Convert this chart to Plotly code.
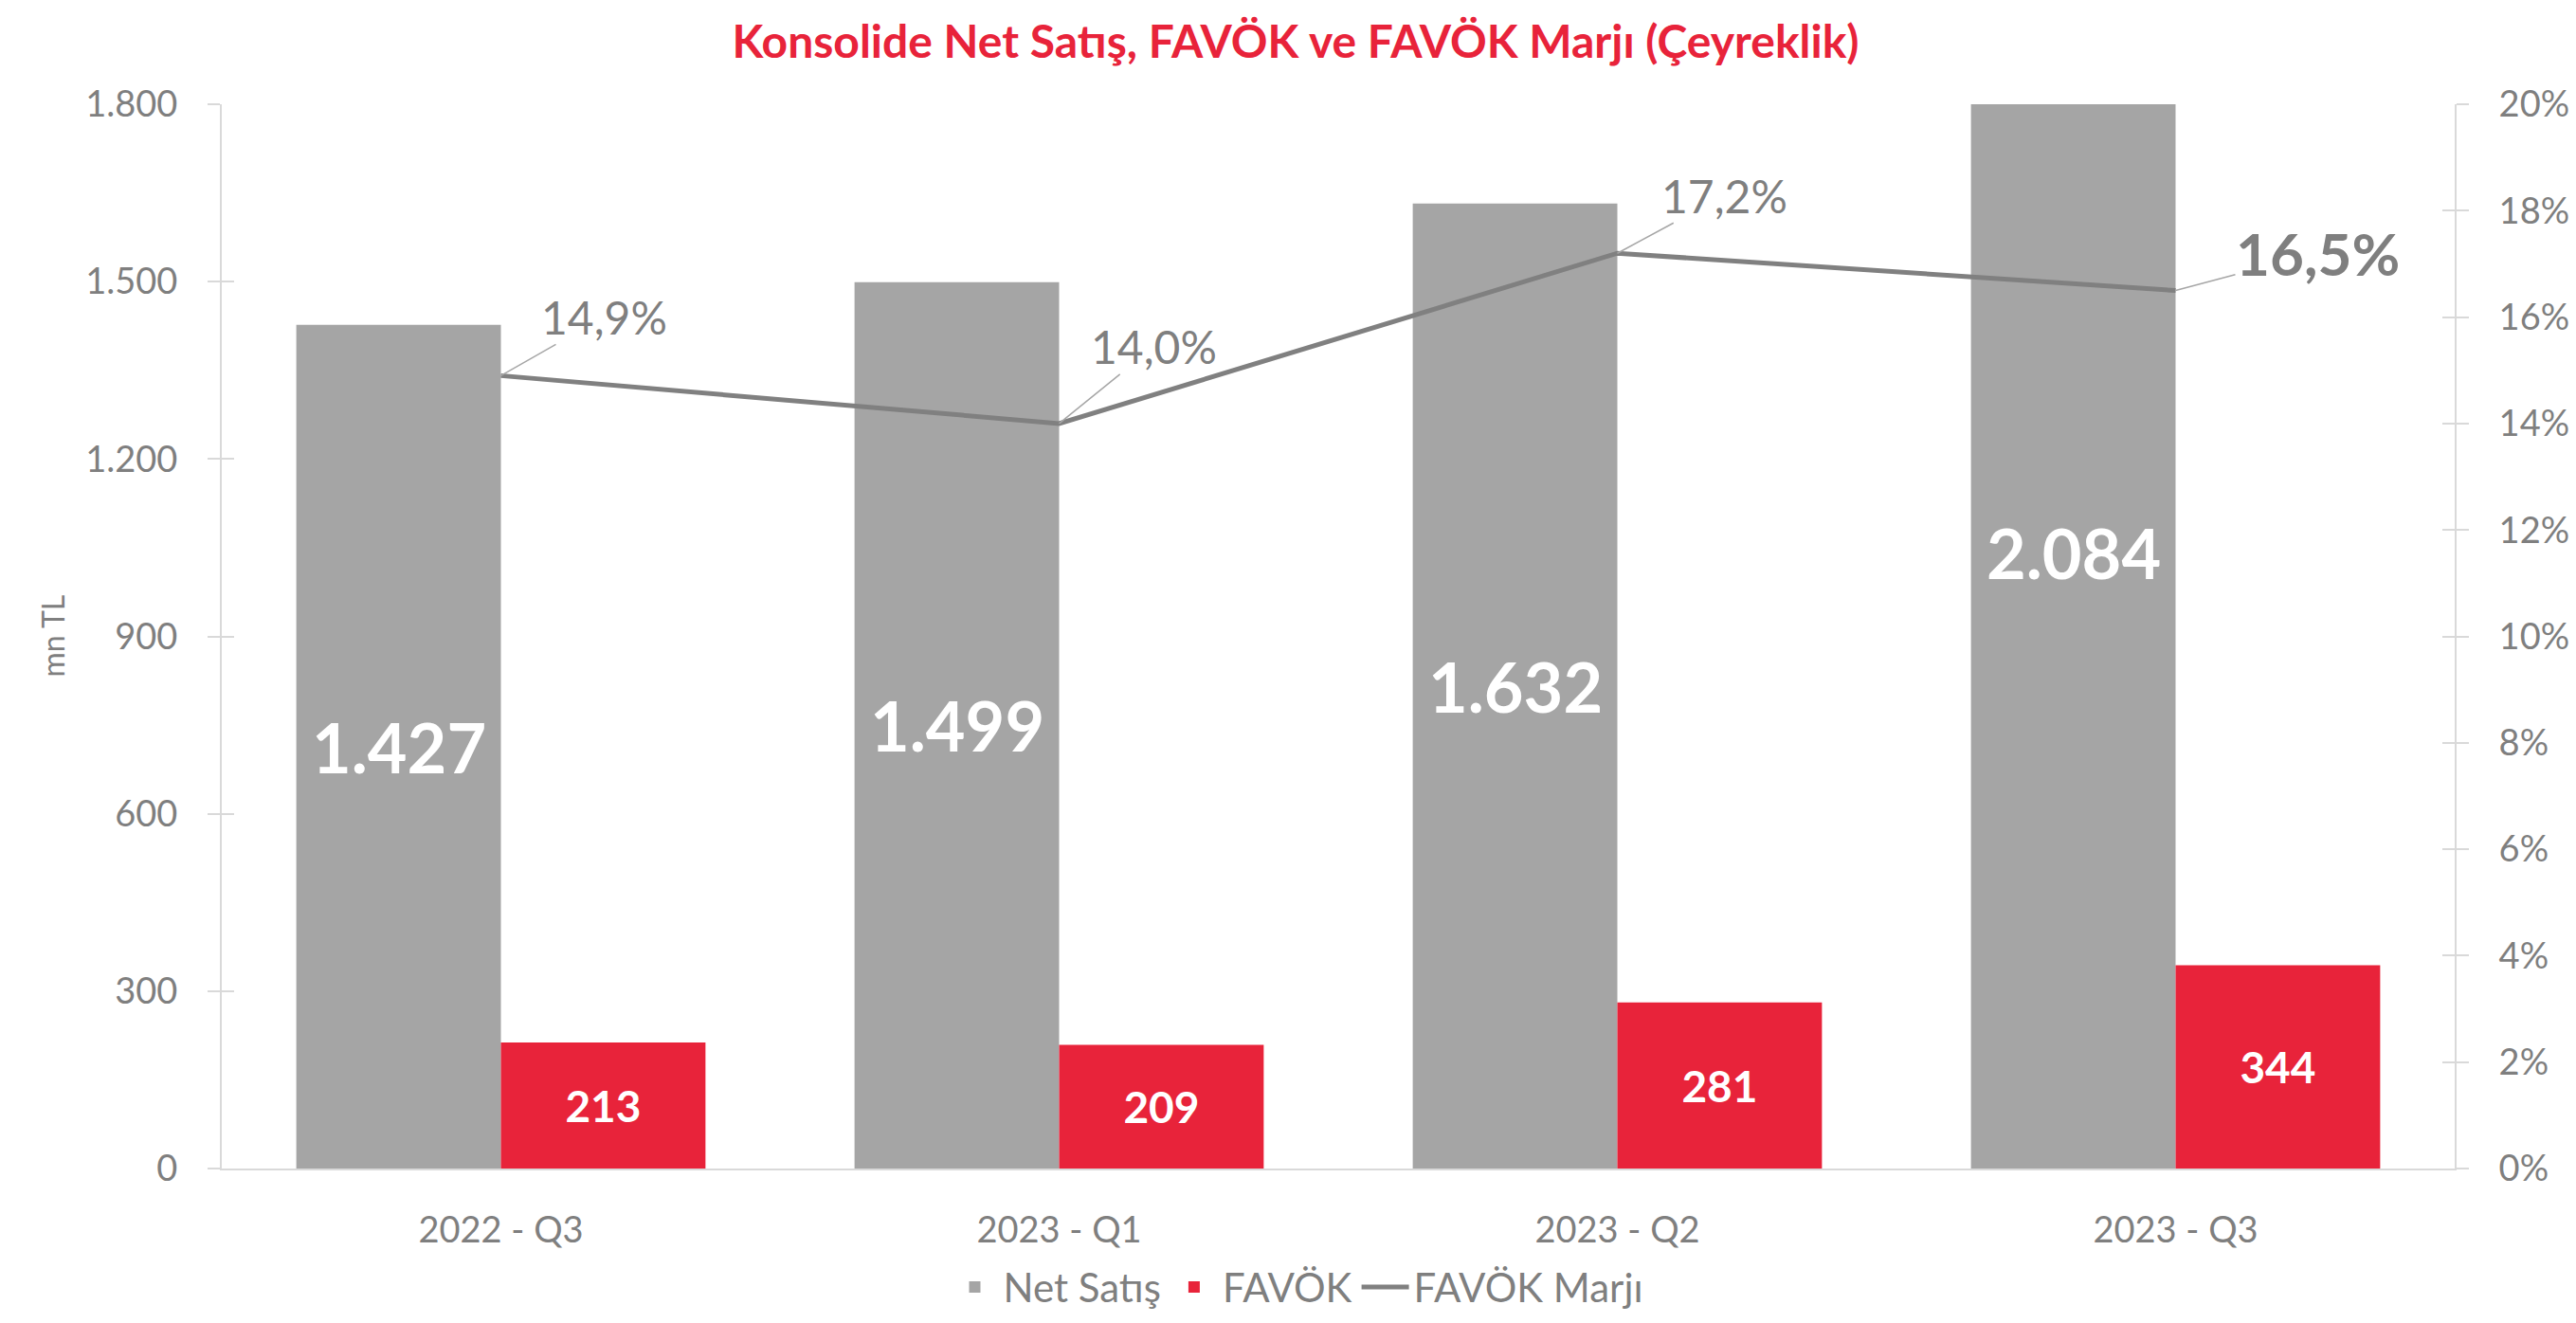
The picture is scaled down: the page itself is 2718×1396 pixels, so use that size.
import plotly.graph_objects as go

categories = ["2022 - Q3", "2023 - Q1", "2023 - Q2", "2023 - Q3"]
net_satis = [1427, 1499, 1632, 2084]
favok = [213, 209, 281, 344]
favok_marji = [14.9, 14.0, 17.2, 16.5]  # percent
left_ticks = [0, 300, 600, 900, 1200, 1500, 1800]
right_ticks = [0, 2, 4, 6, 8, 10, 12, 14, 16, 18, 20]

GRAY_BAR = "#A5A5A5"
RED = "#E8233A"
TXT = "#7F7F7F"
AXIS = "#D9D9D9"
FONT = "Lato"

W, H = 2718, 1396
ML, MR, MT, MB = 226, 136, 102, 154
BARGAP = 0.267

def tr_num(v, dec=0):
    s = f"{v:,.{dec}f}"
    return s.replace(",", "X").replace(".", ",").replace("X", ".")

fig = go.Figure()
fig.add_trace(go.Bar(
    x=categories, y=net_satis, name="Net Satış", marker_color=GRAY_BAR,
    marker_line_width=0, hoverinfo="skip"))
fig.add_trace(go.Bar(
    x=categories, y=favok, name="FAVÖK", marker_color=RED, marker_line_width=0,
    text=[tr_num(v) for v in favok], textposition="inside",
    insidetextanchor="middle", textangle=0,
    textfont=dict(family=FONT, size=46, color="white", weight="bold"),
    hoverinfo="skip"))
fig.add_trace(go.Scatter(
    x=categories, y=[v / 100 for v in favok_marji], name="FAVÖK Marjı",
    yaxis="y2", mode="lines", line=dict(color="#808080", width=5),
    hoverinfo="skip"))
# helper traces so overlay axes (for crossing tick marks) are drawn
fig.add_trace(go.Scatter(x=categories, y=[None] * len(categories), yaxis="y3",
                         showlegend=False, hoverinfo="skip"))
fig.add_trace(go.Scatter(x=categories, y=[None] * len(categories), yaxis="y4",
                         showlegend=False, hoverinfo="skip"))

annotations = []
bar_w = (1 - BARGAP) / 2
for i, v in enumerate(net_satis):
    annotations.append(dict(
        x=i - bar_w / 2, y=v / 2, xref="x", yref="y", showarrow=False,
        text=f"<b>{tr_num(v)}</b>",
        font=dict(family=FONT, size=72, color="white")))

label_offsets = [(109, -62), (100, -81), (113, -61), (150, -40)]
for i, v in enumerate(favok_marji):
    last = i == len(favok_marji) - 1
    txt = tr_num(v, 1) + "%"
    annotations.append(dict(
        x=categories[i], y=v / 100, xref="x", yref="y2",
        text=f"<b>{txt}</b>" if last else txt,
        showarrow=True, arrowhead=0, arrowwidth=1.5, arrowcolor="#A6A6A6",
        ax=label_offsets[i][0], ay=label_offsets[i][1], borderpad=0,
        font=dict(family=FONT, size=62 if last else 48, color=TXT)))

annotations.append(dict(
    x=(47 - ML) / (W - ML - MR), y=0.5, xref="paper", yref="paper",
    xanchor="center", yanchor="middle",
    text="mn TL", textangle=-90, showarrow=False,
    font=dict(family=FONT, size=32, color=TXT)))

fig.update_layout(
    width=W, height=H,
    margin=dict(l=ML, r=MR, t=MT, b=MB),
    paper_bgcolor="white", plot_bgcolor="white",
    separators=",.",
    barmode="group", bargap=BARGAP, bargroupgap=0,
    title=dict(
        text="<b>Konsolide Net Satış, FAVÖK ve FAVÖK Marjı (Çeyreklik)</b>",
        x=0.5, xanchor="center", xref="container",
        y=1 - 36 / H, yanchor="middle", yref="container",
        font=dict(family=FONT, size=48, color=RED)),
    font=dict(family=FONT, color=TXT),
    xaxis=dict(
        type="category", showline=True, linecolor=AXIS, linewidth=2,
        ticks="", showgrid=False, ticklabelstandoff=30,
        tickfont=dict(family=FONT, size=38, color=TXT)),
    yaxis=dict(
        range=[0, 1800], tickvals=left_ticks,
        ticktext=[tr_num(v) for v in left_ticks],
        showline=True, linecolor=AXIS, linewidth=2, showgrid=False,
        zeroline=False, ticks="outside", ticklen=13, tickwidth=2,
        tickcolor=AXIS, ticklabelstandoff=24,
        tickfont=dict(family=FONT, size=38, color=TXT)),
    yaxis2=dict(
        range=[0, 0.20], tickvals=[v / 100 for v in right_ticks],
        ticktext=[f"{v}%" for v in right_ticks],
        overlaying="y", side="right", anchor="x",
        showline=True, linecolor=AXIS, linewidth=2, showgrid=False,
        zeroline=False, ticks="outside", ticklen=13, tickwidth=2,
        tickcolor=AXIS, ticklabelstandoff=24,
        tickfont=dict(family=FONT, size=38, color=TXT)),
    yaxis3=dict(
        range=[0, 1800], tickvals=left_ticks, overlaying="y", side="left",
        anchor="x", showticklabels=False, showline=False, showgrid=False,
        zeroline=False, ticks="inside", ticklen=13, tickwidth=2,
        tickcolor=AXIS),
    yaxis4=dict(
        range=[0, 0.20], tickvals=[v / 100 for v in right_ticks],
        overlaying="y", side="right", anchor="x", showticklabels=False,
        showline=False, showgrid=False, zeroline=False, ticks="inside",
        ticklen=13, tickwidth=2, tickcolor=AXIS),
    legend=dict(
        orientation="h", x=(1361 - ML) / (W - ML - MR), xanchor="center",
        y=(H - MB - 1369) / (H - MT - MB), yanchor="middle",
        font=dict(family=FONT, size=42, color=TXT),
        itemwidth=50, traceorder="normal"),
    annotations=annotations,
    hovermode=False,
)

fig.write_html("out.html")
